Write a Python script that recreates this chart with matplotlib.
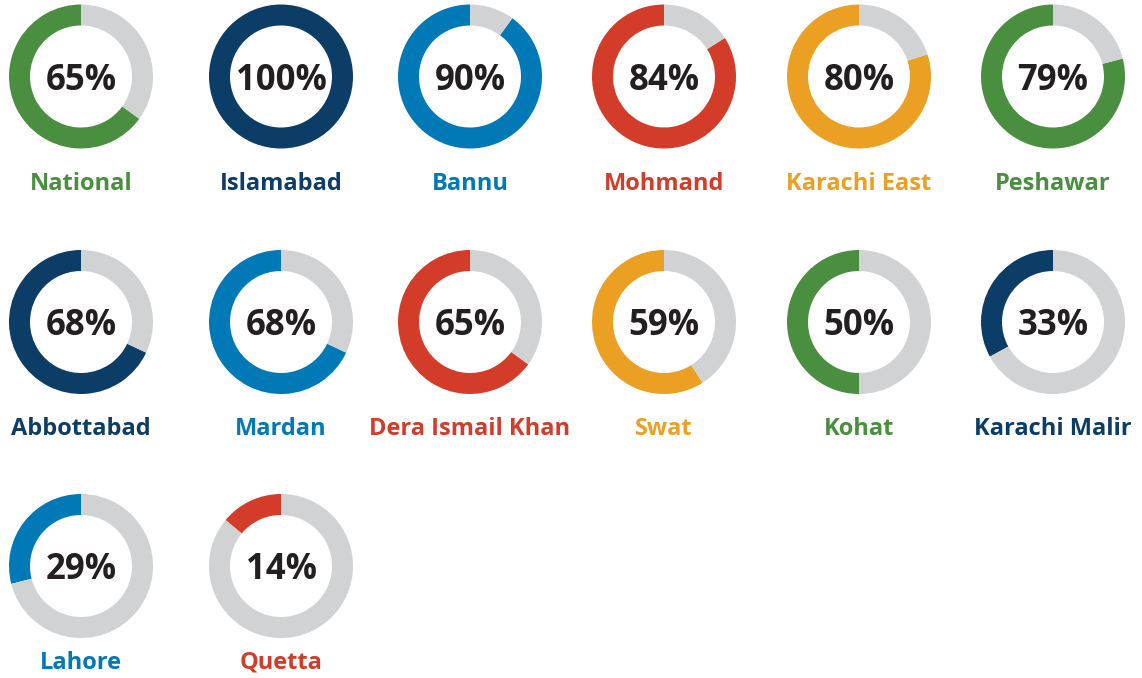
import matplotlib.pyplot as plt

plt.rcParams['font.family'] = ['Open Sans', 'DejaVu Sans']

# district names and share (%) shown in each donut
districts = ["National", "Islamabad", "Bannu", "Mohmand", "Karachi East", "Peshawar",
             "Abbottabad", "Mardan", "Dera Ismail Khan", "Swat", "Kohat", "Karachi Malir",
             "Lahore", "Quetta"]
shares = [65, 100, 90, 84, 80, 79, 68, 68, 65, 59, 50, 33, 29, 14]

palette = ["#4A8F3F", "#0C3D66", "#0079B6", "#D43C2A", "#EBA024"]
ring_gray = "#D1D2D4"
text_dark = "#231F20"

W, H = 1142, 678
fig = plt.figure(figsize=(W / 100, H / 100), dpi=100)
ax = fig.add_axes([0, 0, 1, 1])

col_x = [81, 281, 470, 664, 859, 1053]
row_y = [76.5, 322, 566]   # pixel rows (from top)
label_y = [184, 429, 663]
radius = 72

for i, (name, v) in enumerate(zip(districts, shares)):
    r, c = divmod(i, 6)
    cx, cy = col_x[c], H - row_y[r]
    col = palette[i % len(palette)]
    ax.pie([v, 100 - v], colors=[col, ring_gray], startangle=90, counterclock=True,
           center=(cx, cy), radius=radius,
           wedgeprops=dict(width=21, edgecolor='none', linewidth=0))
    ax.text(cx, cy - 4, f"{v}%", ha='center', va='center', fontsize=25,
            fontweight='bold', color=text_dark)
    ax.text(cx, H - label_y[r], name, ha='center', va='center', fontsize=17,
            fontweight='bold', color=col)

ax.set_xlim(0, W)
ax.set_ylim(0, H)
ax.set_aspect('auto')
ax.axis('off')

fig.savefig("out.png", dpi=100, facecolor='white')
